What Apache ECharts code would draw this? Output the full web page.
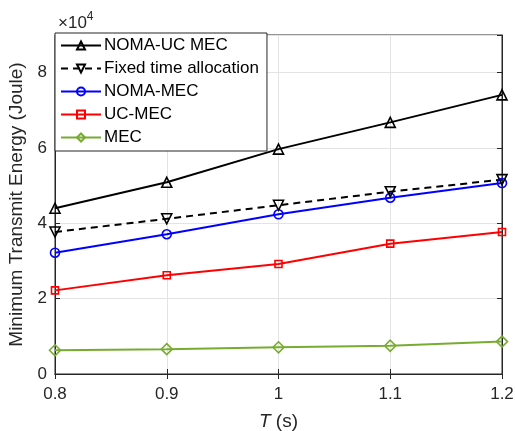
<!DOCTYPE html>
<html>
<head>
<meta charset="utf-8">
<script src="https://cdn.jsdelivr.net/npm/echarts@6/dist/echarts.min.js"></script>
<style>
  html, body { margin: 0; padding: 0; background: #fff; }
  #chart { width: 515px; height: 431px; }
</style>
</head>
<body>
<div id="chart"></div>
<script>
// T (s)
var periods = ['0.8', '0.9', '1', '1.1', '1.2'];
// energy in Joule
var nomaUcMec = [44000, 50900, 59700, 66800, 74100];
var fixedTime = [37700, 41200, 44800, 48400, 51600];
var nomaMec = [32200, 37100, 42400, 46800, 50700];
var ucMec = [22200, 26200, 29200, 34600, 37700];
var mecOnly = [6300, 6600, 7100, 7500, 8600];

var yMax = 90000, yStep = 20000;
var font = '"Liberation Sans", Arial, sans-serif';
var ink = '#262626';

var chart = echarts.init(document.getElementById('chart'));

function line(name, data, color, symbol, size, rotate, dash) {
  return {
    name: name,
    type: 'line',
    data: data,
    symbol: symbol,
    symbolSize: size,
    symbolRotate: rotate,
    showAllSymbol: true,
    lineStyle: { color: color, width: 2, type: dash },
    itemStyle: { color: 'rgba(255,255,255,0)', borderColor: color, borderWidth: 1.6 },
    emphasis: { disabled: true },
    animation: false
  };
}

var option = {
  backgroundColor: '#fff',
  textStyle: { fontFamily: font },
  grid: {
    left: 55, right: 13, top: 35, bottom: 57,
    outerBoundsMode: 'none', containLabel: false,
    show: true, borderColor: ink, borderWidth: 1
  },
  title: {
    text: '{a|×10}{b|4}',
    left: 53, top: 6,
    textStyle: {
      fontWeight: 'normal',
      rich: {
        a: { fontSize: 17, color: ink, fontFamily: font, fontWeight: 'normal' },
        b: { fontSize: 12, color: ink, fontFamily: font, fontWeight: 'normal', verticalAlign: 'top', padding: [0, 0, 12, 0] }
      }
    }
  },
  legend: {
    orient: 'vertical',
    left: 55, top: 33,
    padding: [4, 8, 5, 5],
    itemWidth: 40, itemHeight: 10, itemGap: 6,
    backgroundColor: '#fff',
    borderColor: ink, borderWidth: 1,
    textStyle: { fontSize: 17, color: '#000', fontFamily: font, padding: [0, 0, 0, -2] },
    data: ['NOMA-UC MEC', 'Fixed time allocation', 'NOMA-MEC', 'UC-MEC', 'MEC']
  },
  xAxis: [{
    type: 'category',
    data: periods,
    boundaryGap: false,
    name: '{i|T} (s)',
    nameLocation: 'middle',
    nameGap: 38,
    nameTextStyle: {
      fontSize: 19, color: ink, fontFamily: font,
      rich: { i: { fontStyle: 'italic', fontSize: 19, color: ink, fontFamily: font } }
    },
    axisLine: { lineStyle: { color: ink } },
    axisTick: { inside: true, length: 5, lineStyle: { color: ink } },
    axisLabel: { fontSize: 17, color: ink, margin: 12, fontFamily: font },
    splitLine: { show: true, lineStyle: { color: '#e3e3e3' } }
  }, {
    type: 'category',
    data: periods,
    boundaryGap: false,
    position: 'top',
    axisLine: { lineStyle: { color: ink } },
    axisTick: { inside: true, length: 5, lineStyle: { color: ink } },
    axisLabel: { show: false },
    splitLine: { show: false }
  }],
  yAxis: [{
    type: 'value',
    min: 0, max: yMax, interval: yStep,
    name: 'Minimum Transmit Energy (Joule)',
    nameLocation: 'middle',
    nameGap: 22,
    nameTextStyle: { fontSize: 19, color: ink, fontFamily: font },
    axisLine: { show: true, lineStyle: { color: ink } },
    axisTick: { show: true, inside: true, length: 5, lineStyle: { color: ink } },
    axisLabel: {
      fontSize: 17, color: ink, margin: 8, fontFamily: font,
      formatter: function (v) { return v >= yMax ? '' : String(v / 10000); }
    },
    splitLine: { show: true, lineStyle: { color: '#e3e3e3' } }
  }, {
    type: 'value',
    min: 0, max: yMax, interval: yStep,
    position: 'right',
    axisLine: { show: true, lineStyle: { color: ink } },
    axisTick: { show: true, inside: true, length: 5, lineStyle: { color: ink } },
    axisLabel: { show: false },
    splitLine: { show: false }
  }],
  series: [
    line('MEC', mecOnly, '#77ac30', 'diamond', 11, 0, 'solid'),
    line('UC-MEC', ucMec, '#ff0000', 'rect', 7, 0, 'solid'),
    line('NOMA-MEC', nomaMec, '#0000ff', 'circle', 9, 0, 'solid'),
    line('Fixed time allocation', fixedTime, '#000000', 'triangle', 10, 180, [7, 5]),
    line('NOMA-UC MEC', nomaUcMec, '#000000', 'triangle', 10, 0, 'solid')
  ]
};
chart.setOption(option);
</script>
</body>
</html>
